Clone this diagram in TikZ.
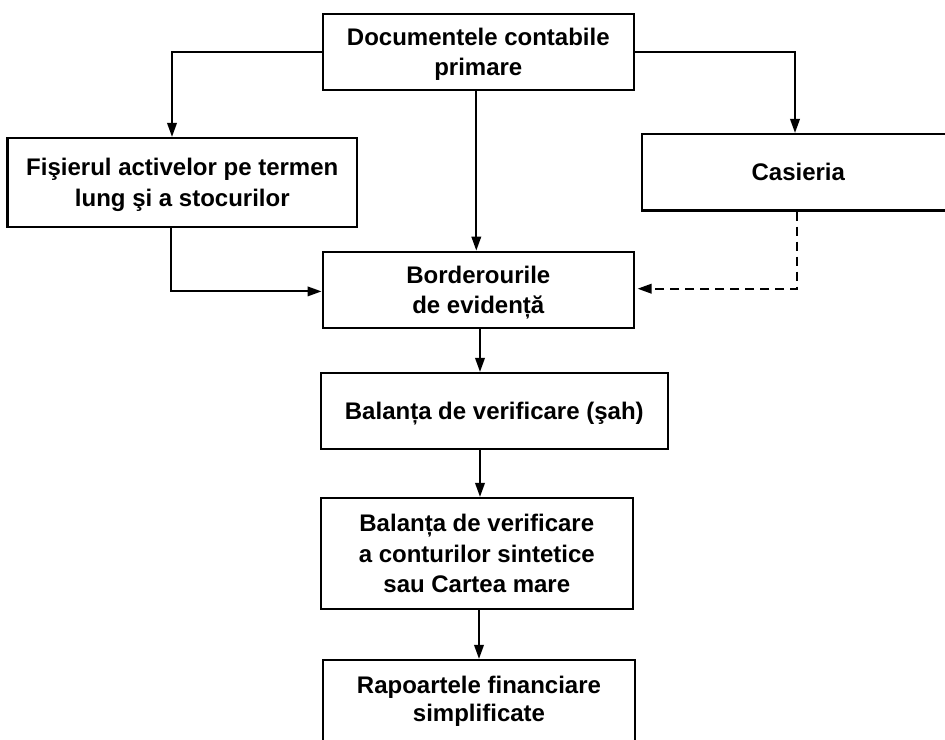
\documentclass[tikz,border=0pt]{standalone}
\usepackage{fontspec}
\setmainfont{Liberation Sans}
\usetikzlibrary{arrows.meta}
\begin{document}
\begin{tikzpicture}[x=1pt,y=-1pt,
  box/.style={draw, line width=2.2pt, inner sep=0pt, align=center, text depth=0pt,
    font=\bfseries\fontsize{24}{30.5}\selectfont},
  arr/.style={line width=2pt, -{Triangle[length=14pt,width=9.5pt]}},
  dsh/.style={arr, dash pattern=on 9pt off 6pt}]
\useasboundingbox (0,0) rectangle (945,739);
\clip (0,0) rectangle (945,739);
\node[box, minimum width=311.3pt, minimum height=76pt] (A) at (478.3,52) {Documentele contabile\\primare};
\node[box, minimum width=349.5pt, minimum height=89pt] (B) at (182.3,182.5) {Fişierul activelor pe termen\\lung şi a stocurilor};
\node[box, minimum width=313.3pt, minimum height=76.5pt] (C) at (798.3,172.3) {Casieria};
\node[box, minimum width=311.3pt, minimum height=76pt] (D) at (478.3,289.7) {Borderourile\\de evidență};
\node[box, minimum width=347.3pt, minimum height=76pt] (E) at (494.3,411) {Balanța de verificare (şah)};
\node[box, minimum width=312.3pt, minimum height=111pt] (F) at (476.8,553.5) {Balanța de verificare\\a conturilor sintetice\\sau Cartea mare};
\node[box, minimum width=312pt, minimum height=86pt, text depth=8pt] (G) at (479,703) {Rapoartele financiare\\[-2pt]simplificate};
\draw[arr] (A.west) -| ([xshift=-10.3pt]B.north);
\draw[arr] (A.east) -| ([xshift=-3.3pt]C.north);
\draw[arr] ([xshift=-2pt]A.south) -- ([xshift=-2pt]D.north);
\draw[arr] ([xshift=-11.3pt]B.south) |- ([yshift=-1.7pt]D.west);
\draw[dsh] ([xshift=-1.3pt]C.south) |- ([xshift=2.5pt,yshift=1pt]D.east);
\draw[arr] ([xshift=1.7pt]D.south) -- ([xshift=1.7pt]D.south |- E.north);
\draw[arr] ([xshift=3.2pt]F.north |- E.south) -- ([xshift=3.2pt]F.north);
\draw[arr] (F.south -| G.north) -- (G.north);
\end{tikzpicture}
\end{document}
